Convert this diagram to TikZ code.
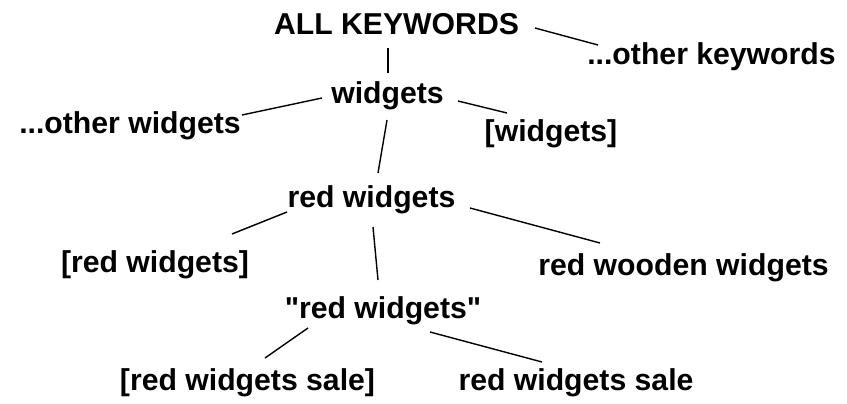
\documentclass[tikz,border=0pt]{standalone}
\usepackage{fontspec}
\setmainfont{Liberation Sans}[Ligatures=TeXOff]
\begin{document}
\begin{tikzpicture}[x=1pt,y=-1pt,
  lbl/.style={inner sep=0pt,anchor=base,font=\fontsize{30.2}{35}\selectfont\bfseries},
  link/.style={line width=1.4pt,black}]
\useasboundingbox (0,0) rectangle (847,404);
\node[lbl] (kw)   at (396.5,35)  {ALL KEYWORDS};
\node[lbl] (okw)  at (711.5,65)  {...other keywords};
\node[lbl] (w)    at (387.5,103) {widgets};
\node[lbl] (ow)   at (130,133)   {...other widgets};
\node[lbl] (bw)   at (551,142)   {[widgets]};
\node[lbl] (rw)   at (371.5,207) {red widgets};
\node[lbl] (brw)  at (155,272)   {[red widgets]};
\node[lbl] (rww)  at (683.5,275) {red wooden widgets};
\node[lbl] (qrw)  at (383,318)   {"red widgets"};
\node[lbl] (brws) at (247.5,390) {[red widgets sale]};
\node[lbl] (rws)  at (576,390)   {red widgets sale};
\draw[link] ([shift={(138.5,-7)}]kw.base) -- ([shift={(-113.5,-20)}]okw.base);
\draw[link] ([shift={(-8.5,13)}]kw.base) -- ([shift={(0.5,-30)}]w.base);
\draw[link] ([shift={(-65.5,-5)}]w.base) -- ([shift={(112,-18)}]ow.base);
\draw[link] ([shift={(70.5,-2)}]w.base) -- ([shift={(-44,-29)}]bw.base);
\draw[link] ([shift={(-0.5,17)}]w.base) -- ([shift={(6.5,-34)}]rw.base);
\draw[link] ([shift={(-84.5,5)}]rw.base) -- ([shift={(77,-38)}]brw.base);
\draw[link] ([shift={(98.5,1)}]rw.base) -- ([shift={(-83.5,-32)}]rww.base);
\draw[link] ([shift={(1.5,20)}]rw.base) -- ([shift={(-5,-38)}]qrw.base);
\draw[link] ([shift={(-75,10)}]qrw.base) -- ([shift={(17.5,-32)}]brws.base);
\draw[link] ([shift={(47,14)}]qrw.base) -- ([shift={(-34,-28)}]rws.base);
\end{tikzpicture}
\end{document}
